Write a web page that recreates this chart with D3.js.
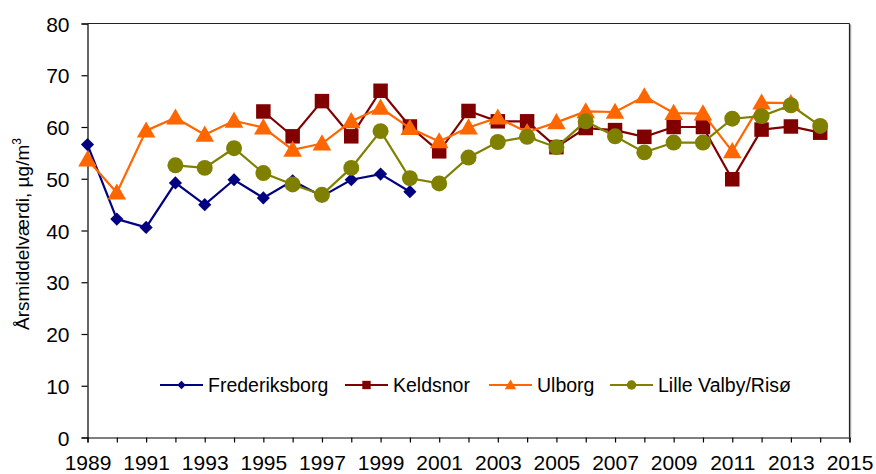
<!DOCTYPE html>
<html>
<head>
<meta charset="utf-8">
<script src="https://cdn.jsdelivr.net/npm/d3@7"></script>
<style>
  html, body { margin: 0; padding: 0; background: #fff; }
  svg { display: block; font-family: "Liberation Sans", Arial, sans-serif; }
</style>
</head>
<body>
<svg id="chart" width="876" height="474"></svg>
<script>
const yearsFred = [1989,1990,1991,1992,1993,1994,1995,1996,1997,1998,1999,2000];
const valuesFred = [56.6,42.2,40.6,49.2,45.0,49.8,46.3,49.6,46.6,49.8,50.9,47.5];

const yearsKeld = [1995,1996,1997,1998,1999,2000,2001,2002,2003,2004,2005,2006,2007,2008,2009,2010,2011,2012,2013,2014];
const valuesKeld = [63.0,58.2,65.0,58.2,67.0,60.1,55.3,63.1,61.1,61.1,56.1,59.8,59.4,58.1,60.0,60.0,49.9,59.5,60.1,58.9];

const yearsUlb = [1989,1990,1991,1992,1993,1994,1995,1996,1997,1998,1999,2000,2001,2002,2003,2004,2005,2006,2007,2008,2009,2010,2011,2012,2013];
const valuesUlb = [53.7,47.3,59.3,61.8,58.5,61.2,59.9,55.6,56.8,61.1,63.7,59.8,57.2,59.9,61.8,59.0,60.9,63.0,62.9,65.9,62.7,62.6,55.3,64.7,64.6];

const yearsLil = [1992,1993,1994,1995,1996,1997,1998,1999,2000,2001,2002,2003,2004,2005,2006,2007,2008,2009,2010,2011,2012,2013,2014];
const valuesLil = [52.6,52.1,55.9,51.1,48.9,46.9,52.1,59.2,50.1,49.1,54.1,57.1,58.1,56.1,61.1,58.2,55.1,57.0,57.0,61.6,62.1,64.2,60.2];

const xTickLabels = [1989,1991,1993,1995,1997,1999,2001,2003,2005,2007,2009,2011,2013,2015];
const yTickLabels = [0,10,20,30,40,50,60,70,80];
const seriesNames = ["Frederiksborg","Keldsnor","Ulborg","Lille Valby/Risø"];
const yTitle = "Årsmiddelværdi, µg/m";

const series = [
  {name: seriesNames[0], years: yearsFred, values: valuesFred, color: "#000080", shape: "diamond"},
  {name: seriesNames[1], years: yearsKeld, values: valuesKeld, color: "#800000", shape: "square"},
  {name: seriesNames[2], years: yearsUlb, values: valuesUlb, color: "#FF6600", shape: "triangle"},
  {name: seriesNames[3], years: yearsLil, values: valuesLil, color: "#808000", shape: "circle"}
];

const svg = d3.select("#chart");
const pLeft = 87.5, pRight = 849.5, pTop = 23.5, pBottom = 437.5;

const x = d3.scaleLinear().domain([1989, 2015]).range([pLeft, pRight]);
const y = d3.scaleLinear().domain([0, 80]).range([pBottom, pTop]);

// plot border (top and right)
svg.append("line").attr("x1", pLeft).attr("x2", pRight).attr("y1", pTop).attr("y2", pTop)
  .attr("stroke", "#222").attr("stroke-width", 1.2);
svg.append("line").attr("x1", pRight + 1.2).attr("x2", pRight + 1.2).attr("y1", pTop + 1).attr("y2", pBottom)
  .attr("stroke", "#aaa").attr("stroke-width", 1.2);
svg.append("line").attr("x1", pRight).attr("x2", pRight).attr("y1", pTop).attr("y2", pBottom)
  .attr("stroke", "#222").attr("stroke-width", 1.2);

// y axis
const yAxis = d3.axisLeft(y).tickValues(yTickLabels).tickSize(6).tickPadding(12).tickFormat(d3.format("d"));
const gy = svg.append("g").attr("transform", `translate(${pLeft},0)`).call(yAxis);
gy.select(".domain").attr("stroke", "#000").attr("stroke-width", 1.2);
gy.selectAll(".tick line").attr("stroke", "#000").attr("stroke-width", 1.2);
gy.selectAll(".tick text").attr("font-size", 21).attr("fill", "#000")
  .attr("font-family", "Liberation Sans, Arial, sans-serif").attr("dy", "0.36em");

// x axis: tick each year, label every two
const allYears = d3.range(1989, 2016);
const xAxis = d3.axisBottom(x).tickValues(allYears).tickSize(5).tickPadding(13)
  .tickFormat(d => xTickLabels.includes(d) ? String(d) : "");
const gx = svg.append("g").attr("transform", `translate(0,${pBottom})`).call(xAxis);
gx.select(".domain").attr("stroke", "#000").attr("stroke-width", 1.2);
gx.selectAll(".tick line").attr("stroke", "#000").attr("stroke-width", 1.2);
gx.selectAll(".tick text").attr("font-size", 21).attr("fill", "#000")
  .attr("font-family", "Liberation Sans, Arial, sans-serif");

// y axis title
const title = svg.append("text")
  .attr("transform", `translate(29,234) rotate(-90)`)
  .attr("text-anchor", "middle").attr("font-size", 19).attr("fill", "#000");
title.append("tspan").text(yTitle);
title.append("tspan").attr("font-size", 12).attr("dy", -8).text("3");

function symbolFor(shape) {
  if (shape === "diamond") return d3.symbol().type(d3.symbolDiamond2).size(110)();
  if (shape === "square") return d3.symbol().type(d3.symbolSquare).size(210)();
  if (shape === "triangle") return d3.symbol().type(d3.symbolTriangle).size(150)();
  return d3.symbol().type(d3.symbolCircle).size(200)();
}
function legendSymbol(shape) {
  if (shape === "diamond") return d3.symbol().type(d3.symbolDiamond2).size(45)();
  if (shape === "square") return d3.symbol().type(d3.symbolSquare).size(70)();
  if (shape === "triangle") return d3.symbol().type(d3.symbolTriangle).size(55)();
  return d3.symbol().type(d3.symbolCircle).size(70)();
}

const line = d3.line().x(d => x(d[0])).y(d => y(d[1]));

series.forEach(s => {
  const pts = s.years.map((yr, i) => [yr, s.values[i]]);
  const g = svg.append("g");
  g.append("path").datum(pts).attr("d", line)
    .attr("fill", "none").attr("stroke", s.color).attr("stroke-width", 2.2);
  g.selectAll("path.m").data(pts).enter().append("path").attr("class", "m")
    .attr("d", symbolFor(s.shape))
    .attr("transform", d => `translate(${x(d[0])},${y(d[1]) + (s.shape === "triangle" ? 1.5 : 0)})`)
    .attr("fill", s.color);
});

// legend
const legendY = 385;
const legendX = [160, 345, 489, 610];
series.forEach((s, i) => {
  const g = svg.append("g").attr("transform", `translate(${legendX[i]},${legendY})`);
  g.append("line").attr("x1", 0).attr("x2", 43).attr("y1", 0).attr("y2", 0)
    .attr("stroke", s.color).attr("stroke-width", 2.2);
  g.append("path").attr("d", legendSymbol(s.shape))
    .attr("transform", `translate(21.5,${s.shape === "triangle" ? 1 : 0})`).attr("fill", s.color);
  g.append("text").attr("x", 48).attr("y", 0).attr("dy", "0.36em")
    .attr("font-size", 19.5).attr("fill", "#000").text(s.name);
});
</script>
</body>
</html>
